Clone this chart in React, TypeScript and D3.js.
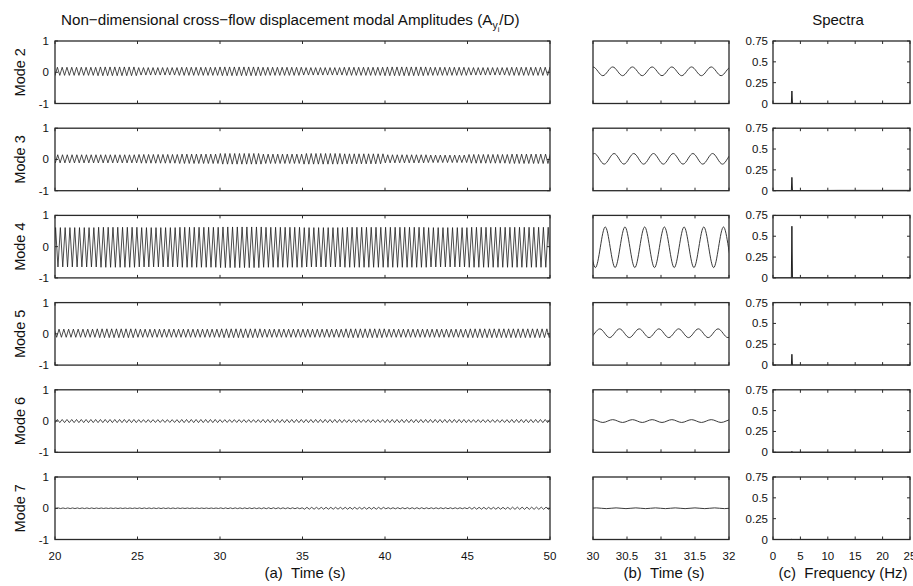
import React from "react";
import * as d3 from "d3";

// ---------- data ----------
const MODES = ["Mode 2", "Mode 3", "Mode 4", "Mode 5", "Mode 6", "Mode 7"];

// dominant response frequency (spectral peak), Hz
const FREQ_HZ = 3.45;

// amplitude envelope (A/D) of each mode, read every 2.5 s from 20 s to 50 s
const ENV_TIMES = [20, 22.5, 25, 27.5, 30, 32.5, 35, 37.5, 40, 42.5, 45, 47.5, 50];
const ENV_MODE2 = [0.13, 0.14, 0.12, 0.13, 0.14, 0.13, 0.12, 0.13, 0.14, 0.13, 0.12, 0.13, 0.13];
const ENV_MODE3 = [0.13, 0.13, 0.14, 0.15, 0.17, 0.15, 0.17, 0.16, 0.13, 0.12, 0.14, 0.15, 0.15];
const ENV_MODE4 = [0.63, 0.64, 0.63, 0.64, 0.65, 0.64, 0.63, 0.64, 0.64, 0.63, 0.64, 0.64, 0.63];
const ENV_MODE5 = [0.13, 0.14, 0.13, 0.13, 0.14, 0.13, 0.13, 0.14, 0.13, 0.13, 0.14, 0.14, 0.13];
const ENV_MODE6 = [0.05, 0.05, 0.045, 0.05, 0.045, 0.05, 0.05, 0.045, 0.05, 0.05, 0.045, 0.05, 0.05];
const ENV_MODE7 = [0.01, 0.008, 0.01, 0.008, 0.012, 0.015, 0.03, 0.03, 0.018, 0.015, 0.03, 0.035, 0.02];
const ENVELOPES = [ENV_MODE2, ENV_MODE3, ENV_MODE4, ENV_MODE5, ENV_MODE6, ENV_MODE7];

// time of a crest near the start of the zoom window (panel b), and mean offset
const PEAK_TIME = [30.0, 30.02, 30.18, 30.1, 30.0, 30.05];
const MEAN_OFFSET = [0.03, 0.02, -0.02, 0.02, 0.0, 0.0];

// spectra
const SPEC_FREQ = [0, 3.35, 3.45, 3.55, 12, 25];
const SPEC_MODE2 = [0, 0, 0.15, 0, 0, 0];
const SPEC_MODE3 = [0, 0, 0.16, 0, 0.004, 0.004];
const SPEC_MODE4 = [0, 0, 0.62, 0, 0, 0];
const SPEC_MODE5 = [0, 0, 0.13, 0, 0, 0];
const SPEC_MODE6 = [0, 0, 0.012, 0, 0, 0];
const SPEC_MODE7 = [0, 0, 0.004, 0, 0, 0];
const SPECTRA = [SPEC_MODE2, SPEC_MODE3, SPEC_MODE4, SPEC_MODE5, SPEC_MODE6, SPEC_MODE7];

// ticks
const TIME_TICKS = [20, 25, 30, 35, 40, 45, 50];
const ZOOM_TICKS = [30, 30.5, 31, 31.5, 32];
const ZOOM_TICK_LABELS = ["30", "30.5", "31", "31.5", "32"];
const FREQ_TICKS = [0, 5, 10, 15, 20, 25];
const AMP_TICKS = [-1, 0, 1];
const AMP_TICK_LABELS = ["-1", "0", "1"];
const SPEC_TICKS = [0, 0.25, 0.5, 0.75];
const SPEC_TICK_LABELS = ["0", "0.25", "0.5", "0.75"];

// ---------- layout ----------
const W = 913;
const H = 586;
const A = { l: 55, r: 550 };
const B = { l: 593, r: 729 };
const C = { l: 773, r: 910 };
const ROW0 = 41;
const ROW_STEP = 87.2;
const ROW_H = 62.5;
const FONT = "'Liberation Sans', Arial, Helvetica, sans-serif";
const BOX = "#2a2a2a";
const INK = "#1e1e1e";
const TICK = 3;
const TICK_FS = 11.5;

function buildExtrema(env: number[], peakT: number, offset: number): [number, number][] {
  const half = 1 / FREQ_HZ / 2;
  const t0 = ENV_TIMES[0];
  const t1 = ENV_TIMES[ENV_TIMES.length - 1];
  const step = ENV_TIMES[1] - ENV_TIMES[0];
  const kStart = Math.floor((t0 - peakT) / half) - 1;
  const kEnd = Math.ceil((t1 - peakT) / half) + 1;
  const pts: [number, number][] = [];
  for (let k = kStart; k <= kEnd; k++) {
    const t = peakT + k * half;
    const sign = Math.abs(k) % 2 === 0 ? 1 : -1;
    const bin = Math.max(0, Math.min(env.length - 1, Math.floor((t - t0) / step)));
    pts.push([t, offset + sign * env[bin]]);
  }
  return pts;
}

function Box({ x0, x1, y0, y1 }: { x0: number; x1: number; y0: number; y1: number }) {
  return <rect x={x0} y={y0} width={x1 - x0} height={y1 - y0} fill="none" stroke={BOX} strokeWidth={1.3} />;
}

export default function App() {
  const xA = d3.scaleLinear().domain([20, 50]).range([A.l, A.r]);
  const xB = d3.scaleLinear().domain([30, 32]).range([B.l, B.r]);
  const xC = d3.scaleLinear().domain([0, 25]).range([C.l, C.r]);

  const rows = MODES.map((name, i) => {
    const top = ROW0 + i * ROW_STEP;
    const bot = top + ROW_H;
    const yA = d3.scaleLinear().domain([-1, 1]).range([bot, top]);
    const yC = d3.scaleLinear().domain([0, 0.75]).range([bot, top]);
    const ext = buildExtrema(ENVELOPES[i], PEAK_TIME[i], MEAN_OFFSET[i]);
    const lineA = d3.line<[number, number]>().x((d) => xA(d[0])).y((d) => yA(d[1])).curve(d3.curveLinear);
    const zoomPts = ext.filter((d) => d[0] >= 29.5 && d[0] <= 32.5);
    const lineB = d3.line<[number, number]>().x((d) => xB(d[0])).y((d) => yA(d[1])).curve(d3.curveMonotoneX);
    const specPts: [number, number][] = SPEC_FREQ.map((f, j) => [f, SPECTRA[i][j]]);
    const lineC = d3.line<[number, number]>().x((d) => xC(d[0])).y((d) => yC(d[1]));
    const last = i === MODES.length - 1;
    return (
      <g key={name}>
        <defs>
          <clipPath id={`clipA${i}`}>
            <rect x={A.l} y={top} width={A.r - A.l} height={ROW_H} />
          </clipPath>
          <clipPath id={`clipB${i}`}>
            <rect x={B.l} y={top} width={B.r - B.l} height={ROW_H} />
          </clipPath>
          <clipPath id={`clipC${i}`}>
            <rect x={C.l} y={top} width={C.r - C.l} height={ROW_H} />
          </clipPath>
        </defs>
        {/* mode label */}
        <text
          transform={`translate(25,${(top + bot) / 2}) rotate(-90)`}
          textAnchor="middle"
          fontSize={14.5}
          fontFamily={FONT}
          fill="#111"
        >
          {name}
        </text>
        {/* panel a */}
        <path d={lineA(ext) || ""} fill="none" stroke={INK} strokeWidth={0.8} clipPath={`url(#clipA${i})`} />
        <Box x0={A.l} x1={A.r} y0={top} y1={bot} />
        {AMP_TICKS.map((v, j) => (
          <g key={`ya${j}`}>
            <line x1={A.l} x2={A.l + TICK} y1={yA(v)} y2={yA(v)} stroke={BOX} />
            <line x1={A.r} x2={A.r - TICK} y1={yA(v)} y2={yA(v)} stroke={BOX} />
            <text x={A.l - 6} y={yA(v)} dy="0.35em" textAnchor="end" fontSize={TICK_FS} fontFamily={FONT} fill="#111">
              {AMP_TICK_LABELS[j]}
            </text>
          </g>
        ))}
        {TIME_TICKS.map((v) => (
          <g key={`xa${v}`}>
            <line x1={xA(v)} x2={xA(v)} y1={bot} y2={bot - TICK} stroke={BOX} />
            <line x1={xA(v)} x2={xA(v)} y1={top} y2={top + TICK} stroke={BOX} />
            {last && (
              <text x={xA(v)} y={bot + 20} textAnchor="middle" fontSize={TICK_FS} fontFamily={FONT} fill="#111">
                {v}
              </text>
            )}
          </g>
        ))}
        {/* panel b */}
        <path d={lineB(zoomPts) || ""} fill="none" stroke="#3a3a3a" strokeWidth={1} clipPath={`url(#clipB${i})`} />
        <Box x0={B.l} x1={B.r} y0={top} y1={bot} />
        {ZOOM_TICKS.map((v, j) => (
          <g key={`xb${v}`}>
            <line x1={xB(v)} x2={xB(v)} y1={bot} y2={bot - TICK} stroke={BOX} />
            <line x1={xB(v)} x2={xB(v)} y1={top} y2={top + TICK} stroke={BOX} />
            {last && (
              <text x={xB(v)} y={bot + 20} textAnchor="middle" fontSize={TICK_FS} fontFamily={FONT} fill="#111">
                {ZOOM_TICK_LABELS[j]}
              </text>
            )}
          </g>
        ))}
        {/* panel c */}
        <path d={lineC(specPts) || ""} fill="none" stroke={INK} strokeWidth={1} clipPath={`url(#clipC${i})`} />
        <Box x0={C.l} x1={C.r} y0={top} y1={bot} />
        {SPEC_TICKS.map((v, j) => (
          <g key={`yc${j}`}>
            <line x1={C.l} x2={C.l + TICK} y1={yC(v)} y2={yC(v)} stroke={BOX} />
            <line x1={C.r} x2={C.r - TICK} y1={yC(v)} y2={yC(v)} stroke={BOX} />
            <text x={C.l - 5} y={yC(v)} dy="0.35em" textAnchor="end" fontSize={TICK_FS} fontFamily={FONT} fill="#111">
              {SPEC_TICK_LABELS[j]}
            </text>
          </g>
        ))}
        {FREQ_TICKS.map((v) => (
          <g key={`xc${v}`}>
            <line x1={xC(v)} x2={xC(v)} y1={bot} y2={bot - TICK} stroke={BOX} />
            <line x1={xC(v)} x2={xC(v)} y1={top} y2={top + TICK} stroke={BOX} />
            {last && (
              <text x={xC(v)} y={bot + 20} textAnchor="middle" fontSize={TICK_FS} fontFamily={FONT} fill="#111">
                {v}
              </text>
            )}
          </g>
        ))}
      </g>
    );
  });

  const lastBot = ROW0 + (MODES.length - 1) * ROW_STEP + ROW_H;

  return (
    <svg
      width={W}
      height={H}
      viewBox={`0 0 ${W} ${H}`}
      style={{ position: "absolute", left: 0, top: 0, background: "#fff" }}
    >
      <rect x={0} y={0} width={W} height={H} fill="#fff" />
      <text x={61} y={24.5} fontSize={15.2} fontFamily={FONT} fill="#111">
        Non−dimensional cross−flow displacement modal Amplitudes (A
        <tspan fontSize={10.5} dy={4}>y</tspan>
        <tspan fontSize={7.5} dy={3}>i</tspan>
        <tspan dy={-7}>/D)</tspan>
      </text>
      <text x={838} y={24.5} textAnchor="middle" fontSize={15} fontFamily={FONT} fill="#111">
        Spectra
      </text>
      {rows}
      <text x={305} y={lastBot + 38} textAnchor="middle" fontSize={15} fontFamily={FONT} fill="#111">
        {"(a)\u00a0\u00a0Time (s)"}
      </text>
      <text x={664} y={lastBot + 38} textAnchor="middle" fontSize={15} fontFamily={FONT} fill="#111">
        {"(b)\u00a0\u00a0Time (s)"}
      </text>
      <text x={843} y={lastBot + 38} textAnchor="middle" fontSize={15} fontFamily={FONT} fill="#111">
        {"(c)\u00a0\u00a0Frequency (Hz)"}
      </text>
    </svg>
  );
}
